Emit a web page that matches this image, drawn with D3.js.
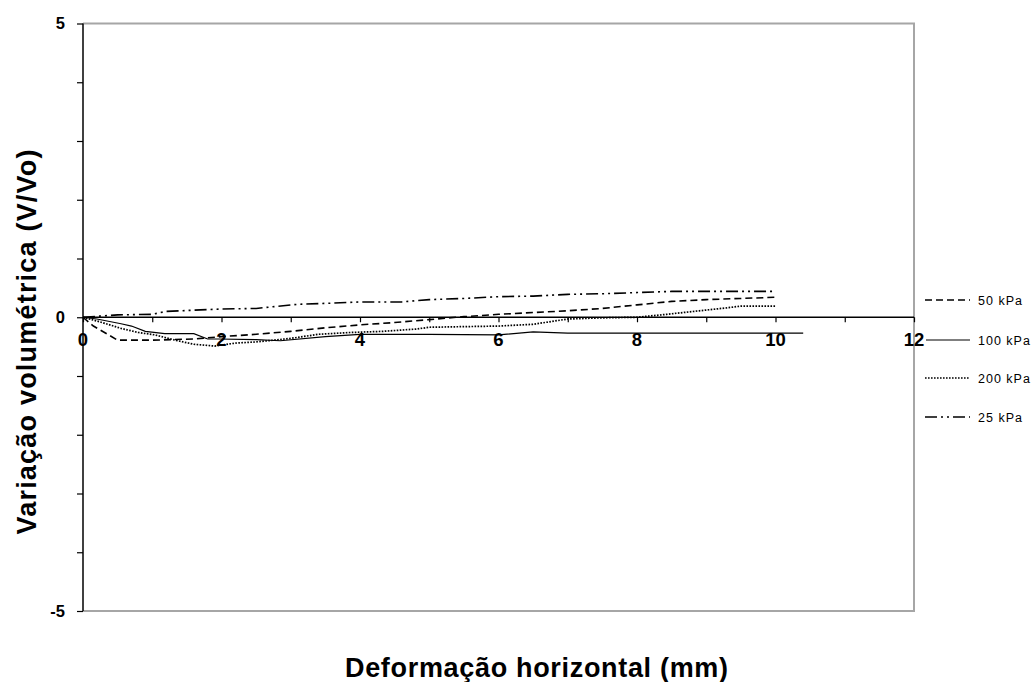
<!DOCTYPE html>
<html>
<head>
<meta charset="utf-8">
<script src="https://cdn.jsdelivr.net/npm/d3@7"></script>
<style>
  html, body { margin: 0; padding: 0; background: #fff; }
  svg { display: block; font-family: "Liberation Sans", Arial, sans-serif; }
</style>
</head>
<body>
<svg id="chart" width="1036" height="682"></svg>
<script>
// Horizontal deformation (mm) and volumetric variation per normal stress
const s25x  = [0, 0.5, 1.0, 1.2, 2.0, 2.5, 3.1, 3.6, 4.0, 4.6, 5.0, 5.5, 6.0, 6.5, 7.0, 7.5, 8.0, 8.5, 9.0, 9.5, 10.0];
const s25y  = [0, 0.04, 0.05, 0.10, 0.14, 0.15, 0.22, 0.24, 0.26, 0.26, 0.30, 0.32, 0.35, 0.36, 0.39, 0.40, 0.42, 0.44, 0.44, 0.44, 0.44];

const s50x  = [0, 0.15, 0.5, 1.0, 1.6, 2.0, 2.5, 3.0, 3.5, 4.0, 4.5, 5.0, 5.5, 6.0, 6.5, 7.0, 7.5, 8.0, 8.5, 9.0, 9.5, 10.0];
const s50y  = [0, -0.15, -0.39, -0.39, -0.37, -0.33, -0.29, -0.24, -0.18, -0.13, -0.09, -0.04, 0.01, 0.05, 0.08, 0.11, 0.15, 0.21, 0.27, 0.30, 0.32, 0.34];

const s100x = [0, 0.2, 0.55, 0.7, 0.9, 1.18, 1.6, 1.8, 1.95, 2.5, 2.85, 3.5, 4.0, 5.0, 6.0, 6.5, 7.0, 8.0, 9.0, 10.0, 10.4];
const s100y = [0, -0.03, -0.11, -0.15, -0.24, -0.28, -0.28, -0.37, -0.37, -0.38, -0.40, -0.33, -0.29, -0.29, -0.30, -0.25, -0.27, -0.27, -0.27, -0.27, -0.27];

const s200x = [0, 0.25, 0.55, 0.8, 1.04, 1.33, 1.6, 1.9, 2.2, 2.5, 3.0, 3.4, 3.85, 4.33, 4.82, 5.0, 6.0, 6.5, 7.0, 7.5, 8.0, 8.43, 8.9, 9.3, 9.5, 10.0];
const s200y = [0, -0.08, -0.19, -0.26, -0.30, -0.39, -0.46, -0.49, -0.44, -0.42, -0.36, -0.29, -0.26, -0.24, -0.20, -0.17, -0.15, -0.12, -0.03, -0.01, 0.0, 0.05, 0.11, 0.16, 0.19, 0.19];

const seriesNames = ["50 kPa", "100 kPa", "200 kPa", "25 kPa"];
const xTickLabels = [0, 2, 4, 6, 8, 10, 12];
const yTickLabels = [-5, 0, 5];
const xTitle = "Deformação horizontal (mm)";
const yTitle = "Variação volumétrica (V/Vo)";

const svg = d3.select("#chart");
const plotL = 83, plotR = 914, plotT = 23.5, plotB = 611;

const x = d3.scaleLinear().domain([0, 12]).range([plotL, plotR]);
const y = d3.scaleLinear().domain([-5, 5]).range([plotB, plotT]);

// plot frame (top, right, bottom in grey)
svg.append("path")
  .attr("d", `M${plotL},${plotT}H${plotR}V${plotB}H${plotL}`)
  .attr("fill", "none").attr("stroke", "#a6a6a6").attr("stroke-width", 2);

// y axis with a tick at every unit
const yAxis = d3.axisLeft(y).tickValues(d3.range(-5, 6, 1)).tickSize(6).tickFormat("");
const gy = svg.append("g").attr("transform", `translate(${plotL},0)`).call(yAxis);
gy.select(".domain").attr("stroke", "#000").attr("stroke-width", 1.5).attr("d", `M0,${plotT}V${plotB}`);
gy.selectAll(".tick line").attr("stroke", "#000").attr("stroke-width", 1.2);

svg.append("g").selectAll("text").data(yTickLabels).join("text")
  .attr("x", 65).attr("y", d => y(d)).attr("dy", "0.36em")
  .attr("text-anchor", "end").attr("font-weight", "bold").attr("font-size", 16.5)
  .text(d => d);

// x axis along zero, ticks pointing down
const xAxis = d3.axisBottom(x).tickValues(d3.range(0, 13, 1)).tickSize(5).tickFormat("");
const gx = svg.append("g").attr("transform", `translate(0,${y(0)})`).call(xAxis);
gx.select(".domain").attr("stroke", "#000").attr("stroke-width", 1.5).attr("d", `M${plotL},0H${plotR}`);
gx.selectAll(".tick line").attr("stroke", "#000").attr("stroke-width", 1.2);

// series lines
const styles = [
  { dash: "7,4", w: 1.6 },
  { dash: null, w: 1.2 },
  { dash: "1.6,1.4", w: 1.7 },
  { dash: "12,4,2,4,2,4", w: 1.6 }
];
const seriesData = [
  d3.zip(s50x, s50y), d3.zip(s100x, s100y), d3.zip(s200x, s200y), d3.zip(s25x, s25y)
];
const line = d3.line().x(d => x(d[0])).y(d => y(d[1]));
[3, 0, 2, 1].forEach(i => {
  svg.append("path").datum(seriesData[i])
    .attr("d", line).attr("fill", "none").attr("stroke", "#000")
    .attr("stroke-width", styles[i].w)
    .attr("stroke-dasharray", styles[i].dash);
});

// x tick labels
svg.append("g").selectAll("text").data(xTickLabels).join("text")
  .attr("x", d => x(d)).attr("y", y(0) + 29)
  .attr("text-anchor", "middle").attr("font-weight", "bold").attr("font-size", 18.5)
  .text(d => d);

// legend
const legendY = [300, 340, 378, 417];
const lg = svg.append("g");
seriesNames.forEach((name, i) => {
  lg.append("line")
    .attr("x1", i === 1 ? 926 : 925).attr("x2", 970)
    .attr("y1", legendY[i]).attr("y2", legendY[i])
    .attr("stroke", "#000").attr("stroke-width", styles[i].w)
    .attr("stroke-dasharray", styles[i].dash);
  lg.append("text")
    .attr("x", 978).attr("y", legendY[i]).attr("dy", "0.36em")
    .attr("font-size", 12.5).attr("letter-spacing", 1)
    .text(name);
});

// axis titles
svg.append("text")
  .attr("x", 536.5).attr("y", 677)
  .attr("text-anchor", "middle").attr("font-weight", "bold").attr("font-size", 27)
  .attr("textLength", 383).attr("lengthAdjust", "spacing")
  .text(xTitle);

svg.append("text")
  .attr("transform", "translate(36,342) rotate(-90)")
  .attr("text-anchor", "middle").attr("font-weight", "bold").attr("font-size", 27)
  .attr("textLength", 385).attr("lengthAdjust", "spacing")
  .text(yTitle);
</script>
</body>
</html>
